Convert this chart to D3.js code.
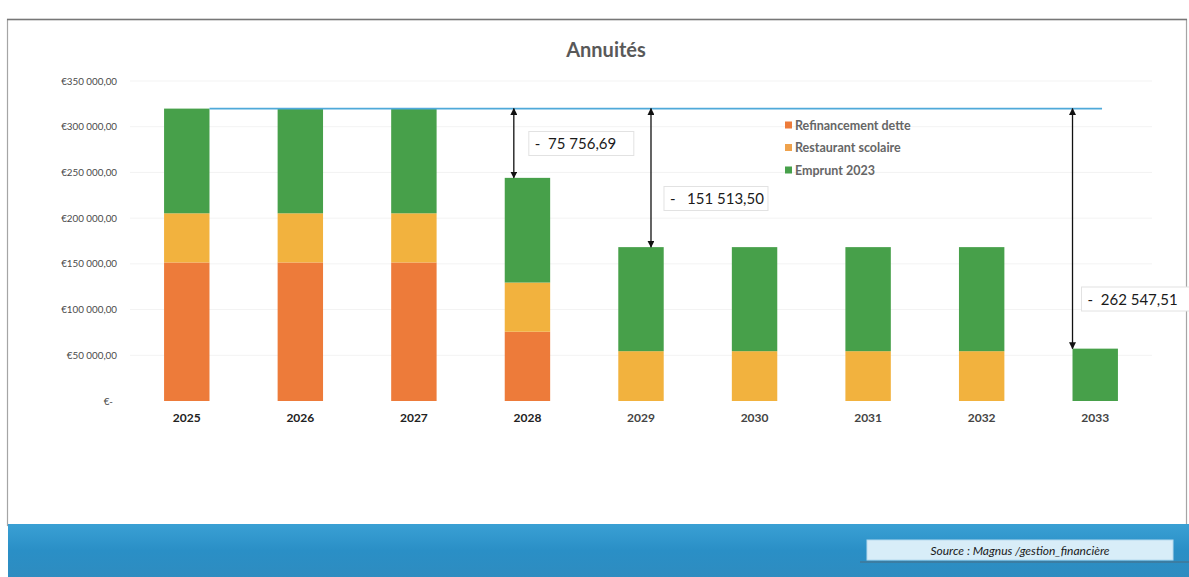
<!DOCTYPE html>
<html>
<head>
<meta charset="utf-8">
<script src="https://cdn.jsdelivr.net/npm/d3@7"></script>
<style>
  html, body { margin: 0; padding: 0; background: #fff; }
  svg { display: block; font-family: Lato, "Open Sans", "Liberation Sans", sans-serif; }
</style>
</head>
<body>
<svg id="chart" width="1189" height="577"></svg>
<script>
// ---- Data ----
const years = ["2025", "2026", "2027", "2028", "2029", "2030", "2031", "2032", "2033"];
const seriesNames = ["Refinancement dette", "Restaurant scolaire", "Emprunt 2023"];
const refinancement = [151513.50, 151513.50, 151513.50, 75756.81, 0, 0, 0, 0, 0];
const restaurant    = [53800, 53800, 53800, 53800, 54500, 54500, 54500, 54500, 0];
const emprunt       = [114500, 114500, 114500, 114500, 113800, 113800, 113800, 113800, 57266];
const yTicks = [0, 50000, 100000, 150000, 200000, 250000, 300000, 350000];
const gapLabels = ["-  75 756,69", "-   151 513,50", "-  262 547,51"];
const gapYears = ["2028", "2029", "2033"];
const colors = ["#ED7B3A", "#F2B23E", "#47A04A"];

// ---- Layout ----
const svg = d3.select("#chart");
const W = 1189, H = 577;
const plot = { left: 130, right: 1152, top: 81, bottom: 401 };

const x = d3.scaleBand().domain(years).range([plot.left, plot.right]).paddingInner(0.6).paddingOuter(0.3);
const y = d3.scaleLinear().domain([0, 350000]).range([plot.bottom, plot.top]);

const fr = d3.formatLocale({ decimal: ",", thousands: "\u00a0", grouping: [3], currency: ["€", ""] });
const fmt = fr.format("$,.2f");

// Frame
svg.append("rect").attr("x", 7.5).attr("y", 19.5).attr("width", 1179).attr("height", 506)
  .attr("fill", "#fff").attr("stroke", "#a5a5a5").attr("stroke-width", 1.2);
svg.append("line").attr("x1", 7).attr("x2", 1187).attr("y1", 19.5).attr("y2", 19.5)
  .attr("stroke", "#777").attr("stroke-width", 1.5);

// Title
svg.append("text").attr("x", 606).attr("y", 57).attr("text-anchor", "middle")
  .attr("font-size", 20).attr("font-weight", 700).attr("fill", "#595959").text("Annuités");

// Grid
svg.append("g").selectAll("line").data(yTicks.filter(d => d > 0)).join("line")
  .attr("x1", plot.left).attr("x2", plot.right)
  .attr("y1", d => y(d)).attr("y2", d => y(d))
  .attr("stroke", "#f3f3f3").attr("stroke-width", 1);

// Y axis
const yAxis = d3.axisLeft(y).tickValues(yTicks).tickSize(0).tickPadding(0)
  .tickFormat(d => d === 0 ? "€-" : fmt(d));
const gy = svg.append("g").attr("transform", `translate(117,0)`).call(yAxis);
gy.select(".domain").remove();
gy.selectAll("text").attr("font-size", 9.8).attr("fill", "#4a4a4a")
  .attr("font-family", "Lato, 'Open Sans', sans-serif");
gy.selectAll(".tick").filter(d => d === 0).select("text").attr("dx", -4);

// X axis
const xAxis = d3.axisBottom(x).tickSize(0).tickPadding(0);
const gx = svg.append("g").attr("transform", `translate(0,${plot.bottom + 12})`).call(xAxis);
gx.select(".domain").remove();
gx.selectAll("text").attr("font-size", 12).attr("font-weight", 700)
  .attr("fill", (d, i) => i < 4 ? "#222" : "#444")
  .attr("font-family", "Lato, 'Open Sans', sans-serif");

// Stacked bars
const table = years.map((yr, i) => ({
  year: yr,
  "Refinancement dette": refinancement[i],
  "Restaurant scolaire": restaurant[i],
  "Emprunt 2023": emprunt[i]
}));
const stack = d3.stack().keys(seriesNames)(table);
svg.append("g").selectAll("g").data(stack).join("g")
  .attr("fill", (d, i) => colors[i])
  .selectAll("rect").data(d => d).join("rect")
  .attr("x", d => x(d.data.year))
  .attr("width", x.bandwidth())
  .attr("y", d => y(d[1]))
  .attr("height", d => Math.max(0, y(d[0]) - y(d[1])));

// Totals
const totals = table.map(d => seriesNames.reduce((s, k) => s + d[k], 0));
const T = totals[0];

// Reference line
svg.append("line")
  .attr("x1", x("2025") + x.bandwidth()).attr("x2", x("2033") + x.bandwidth() * 0.65)
  .attr("y1", y(T)).attr("y2", y(T))
  .attr("stroke", "#4FA9D9").attr("stroke-width", 1.6);

// Arrow markers
const defs = svg.append("defs");
defs.append("marker").attr("id", "ah").attr("viewBox", "0 0 10 10")
  .attr("refX", 9).attr("refY", 5).attr("markerWidth", 7).attr("markerHeight", 7)
  .attr("orient", "auto-start-reverse").attr("markerUnits", "userSpaceOnUse")
  .append("path").attr("d", "M0,0 L10,5 L0,10 z").attr("fill", "#111");

const arrowOffsets = [0.2, 0.72, 0.0];
const boxes = [
  { dx: 15, w: 105 },
  { dx: 13, w: 104 },
  { dx: 9,  w: 108 }
];
const boxYs = [131.5, 186.5, 287];
gapYears.forEach((yr, i) => {
  const idx = years.indexOf(yr);
  const ax = x(yr) + x.bandwidth() * arrowOffsets[i];
  svg.append("line")
    .attr("x1", ax).attr("x2", ax)
    .attr("y1", y(T)).attr("y2", y(totals[idx]))
    .attr("stroke", "#111").attr("stroke-width", 1.3)
    .attr("marker-start", "url(#ah)").attr("marker-end", "url(#ah)");
  const b = boxes[i];
  const boxY = boxYs[i];
  svg.append("rect").attr("x", ax + b.dx).attr("y", boxY).attr("width", b.w).attr("height", 24)
    .attr("fill", "#fff").attr("stroke", "#e2e2e2").attr("stroke-width", 1);
  svg.append("text").attr("x", ax + b.dx + 6).attr("y", boxY + 17.5)
    .attr("font-size", 15).attr("fill", "#1a1a1a")
    .attr("xml:space", "preserve").style("white-space", "pre")
    .text(gapLabels[i]);
});

// Legend
const lg = svg.append("g").attr("transform", "translate(785,125)");
seriesNames.forEach((name, i) => {
  const g = lg.append("g").attr("transform", `translate(0,${i * 22.5})`);
  g.append("rect").attr("x", 0).attr("y", -3.5).attr("width", 7).attr("height", 7)
    .attr("fill", i === 1 ? "#EFA24C" : colors[i]);
  g.append("text").attr("x", 10).attr("y", 4.5).attr("font-size", 12.5).attr("font-weight", 700)
    .attr("fill", "#666").text(name);
});

// Bottom band
const grad = defs.append("linearGradient").attr("id", "band").attr("x1", 0).attr("x2", 0).attr("y1", 0).attr("y2", 1);
grad.append("stop").attr("offset", "0").attr("stop-color", "#3AA0D4");
grad.append("stop").attr("offset", "0.5").attr("stop-color", "#2A8FC6");
grad.append("stop").attr("offset", "1").attr("stop-color", "#2E8CC0");
svg.append("rect").attr("x", 8).attr("y", 524).attr("width", W - 8).attr("height", H - 524)
  .attr("fill", "url(#band)");
svg.append("rect").attr("x", 867).attr("y", 540).attr("width", 306).attr("height", 20)
  .attr("fill", "#D8EDF8").attr("stroke", "#B5D9EE").attr("stroke-width", 1);
svg.append("line").attr("x1", 860).attr("x2", 1189).attr("y1", 562).attr("y2", 562)
  .attr("stroke", "#4d6c80").attr("stroke-width", 1);
svg.append("text").attr("x", 1020).attr("y", 554.5).attr("text-anchor", "middle")
  .attr("font-size", 12).attr("font-style", "italic").attr("fill", "#1a1a1a")
  .text("Source : Magnus /gestion_financière");
</script>
</body>
</html>
